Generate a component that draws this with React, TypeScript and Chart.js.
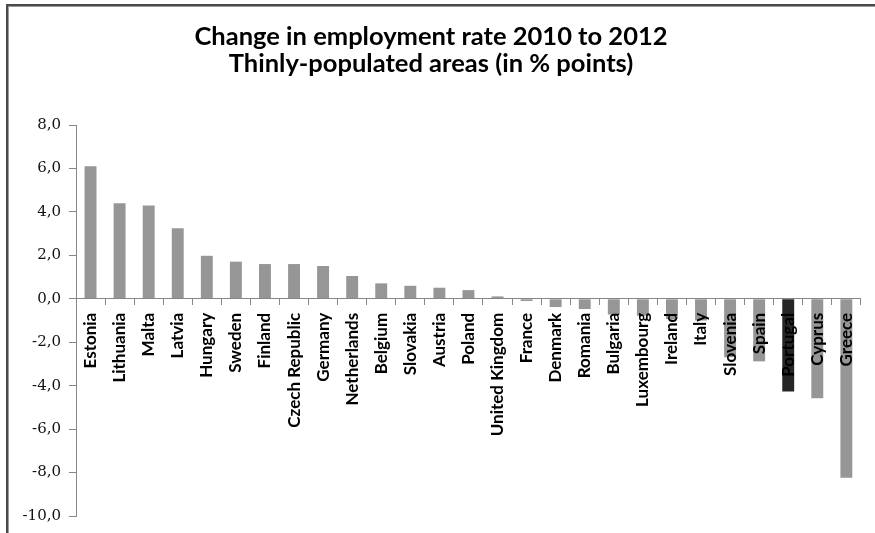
import React, { useEffect, useRef } from "react";
import { Chart, registerables } from "chart.js";

Chart.register(...registerables);

const countries = [
  "Estonia", "Lithuania", "Malta", "Latvia", "Hungary", "Sweden", "Finland",
  "Czech Republic", "Germany", "Netherlands", "Belgium", "Slovakia", "Austria",
  "Poland", "United Kingdom", "France", "Denmark", "Romania", "Bulgaria",
  "Luxembourg", "Ireland", "Italy", "Slovenia", "Spain", "Portugal", "Cyprus", "Greece",
];
const changes = [
  6.1, 4.4, 4.3, 3.25, 1.98, 1.71, 1.6, 1.6, 1.51, 1.05, 0.71, 0.6, 0.51, 0.4,
  0.11, -0.1, -0.38, -0.47, -0.72, -0.78, -0.93, -1.0, -2.69, -2.88, -4.27, -4.58, -8.24,
];
const highlighted = "Portugal";
const titleLines = [
  "Change in employment rate 2010 to 2012",
  "Thinly-populated areas (in % points)",
];
const yMin = -10;
const yMax = 8;
const yStep = 2;

const framePlugin = {
  id: "frame",
  beforeDraw(chart: any) {
    const ctx = chart.ctx;
    ctx.save();
    ctx.fillStyle = "#ffffff";
    ctx.fillRect(0, 0, chart.width, chart.height);
    ctx.fillStyle = "#9a9a9a";
    ctx.fillRect(6, 4, chart.width - 6, 3);
    ctx.fillRect(6, 4, 3, chart.height - 4);
    ctx.fillStyle = "#4a4a4a";
    ctx.fillRect(6, 4, chart.width - 6, 2);
    ctx.fillRect(6, 4, 2, chart.height - 4);
    ctx.restore();
  },
};

export default function App() {
  const ref = useRef<HTMLCanvasElement>(null);
  useEffect(() => {
    if (!ref.current) return;
    const chart = new Chart(ref.current, {
      type: "bar",
      data: {
        labels: countries,
        datasets: [
          {
            data: changes,
            backgroundColor: countries.map((c) => (c === highlighted ? "#262626" : "#969696")),
            borderWidth: 0,
            categoryPercentage: 1,
            barPercentage: 0.41,
          },
        ],
      },
      options: {
        animation: false,
        responsive: true,
        maintainAspectRatio: false,
        layout: { padding: { left: 0, right: 13, top: 0, bottom: 16 } },
        plugins: {
          legend: { display: false },
          tooltip: { enabled: false },
          title: {
            display: true,
            text: titleLines,
            color: "#000000",
            font: { family: "Lato", size: 25.5, weight: "bold", lineHeight: 1.04 },
            padding: { top: 24, bottom: 48 },
          },
        },
        scales: {
          x: {
            position: { y: 0 } as any,
            offset: true,
            grid: {
              display: true,
              drawOnChartArea: false,
              drawTicks: true,
              tickLength: 6,
              offset: true,
              color: "#868686",
              z: 1,
            },
            border: { display: true, color: "#868686", z: 1 },
            ticks: {
              z: 1,
              minRotation: 90,
              maxRotation: 90,
              autoSkip: false,
              color: "#000000",
              padding: 8,
              font: { family: "Lato", size: 17, weight: "bold" },
            },
          },
          y: {
            min: yMin,
            max: yMax,
            ticks: {
              stepSize: yStep,
              color: "#111111",
              padding: 8,
              font: { family: "DejaVu Serif", size: 15 },
              callback: (v: any) => Number(v).toFixed(1).replace(".", ","),
            },
            grid: { drawOnChartArea: false, drawTicks: true, tickLength: 7, color: "#868686" },
            border: { display: true, color: "#868686" },
            afterFit(scale: any) {
              scale.width = 76;
            },
          },
        },
      },
      plugins: [framePlugin],
    });
    return () => chart.destroy();
  }, []);
  return (
    <div style={{ position: "absolute", left: 0, top: 0, width: 875, height: 533 }}>
      <canvas ref={ref} />
    </div>
  );
}
